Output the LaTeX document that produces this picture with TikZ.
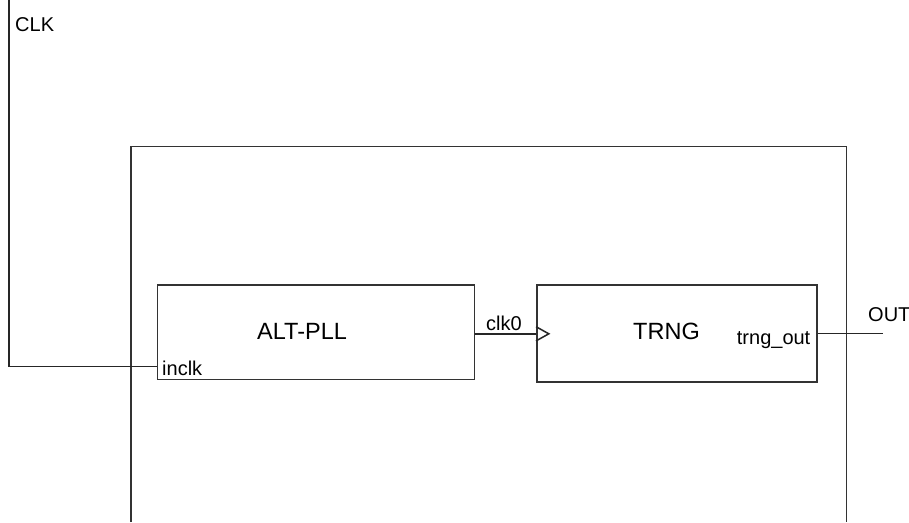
\documentclass[tikz,border=0pt]{standalone}
\usepackage{fontspec}
\setmainfont{Liberation Sans}
\begin{document}
\begin{tikzpicture}[x=1pt,y=-1pt,
  wire/.style={line width=1.5pt,draw=black!85},
  block/.style={rectangle,draw=black!80,line width=1.5pt,inner sep=0pt},
  pinlabel/.style={inner sep=0pt,font=\fontsize{20}{24}\selectfont},
  title/.style={inner sep=0pt,font=\fontsize{23.5}{28}\selectfont}]
  \useasboundingbox[fill=white] (0,0) rectangle (909,522);

  % enclosing top-level block (open at the bottom)
  \draw[block] (131,522) -- (131,146.7) -- (846.7,146.7) -- (846.7,522);

  % sub-blocks
  \node[block,minimum width=317pt,minimum height=94.5pt] (alt) at (315.8,332.3) {};
  \node[block,minimum width=280pt,minimum height=97pt] (trng) at (676.8,333.4) {};

  % block titles
  \node[title,anchor=base west] (altname) at (257,339) {ALT-PLL};
  \node[title,anchor=base west] (trngname) at (633,339) {TRNG};

  % port labels
  \node[pinlabel,anchor=base west] (inclk) at (162,375.5) {inclk};
  \node[pinlabel,anchor=base west] (clk0) at (486,330) {clk0};
  \node[pinlabel,anchor=base east] (trngout) at (810.5,344.5) {trng\_out};
  \node[pinlabel,anchor=base west] (clk) at (15,31) {CLK};
  \node[pinlabel,anchor=base west] (out) at (868,321.5) {OUT};

  % wire end points
  \coordinate (clktop) at (8.8,0);
  \coordinate (pin) at (alt.west |- 0,366.5);
  \coordinate (clkout) at (alt.east |- 0,333.8);
  \coordinate (clkin) at (trng.west |- 0,333.8);
  \coordinate (rngout) at (trng.east |- 0,333.5);
  \coordinate (outend) at (882.8,333.5);

  % wires
  \draw[wire] (clktop) |- (pin);
  \draw[wire] (clkout) -- (clkin);
  \draw[wire] (rngout) -- (outend);

  % clock input marker
  \draw[wire,line join=miter] (trng.west |- 0,326.7) -- (548.8,333.8) -- (trng.west |- 0,340.9);
\end{tikzpicture}
\end{document}
